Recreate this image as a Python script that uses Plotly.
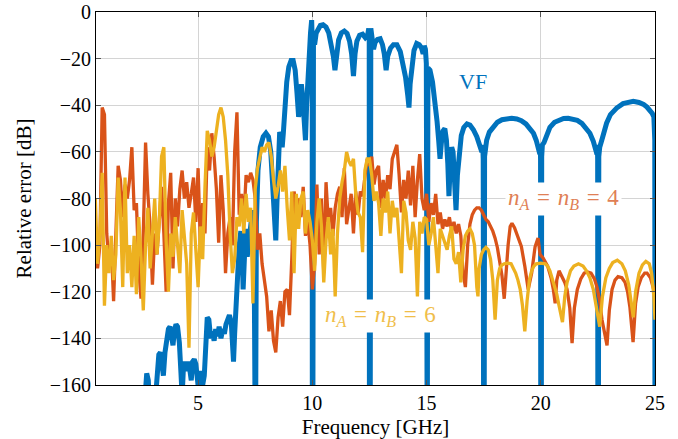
import numpy as np
import plotly.graph_objects as go

# ---------------- data ----------------
vf_freq = [0.5, 2.6, 2.7, 2.75, 2.82, 2.9, 3.1, 3.2, 3.28, 3.35, 3.42, 3.48, 3.55, 3.62, 3.7, 3.77,
           3.83, 3.9, 3.96, 4.03, 4.1, 4.18, 4.25, 4.3, 4.36, 4.42, 4.5, 4.56, 4.63, 4.7, 4.76, 4.83,
           4.9, 4.97, 5.05, 5.12, 5.2, 5.27, 5.33, 5.4, 5.47, 5.55, 5.62, 5.7, 5.77, 5.85, 5.92, 6.0,
           6.08, 6.15, 6.22, 6.3, 6.37, 6.45, 6.5, 6.55, 6.6, 6.65, 6.72, 6.8, 6.87, 6.92, 6.97, 7.02,
           7.08, 7.15, 7.22, 7.3, 7.38, 7.45, 7.49, 7.51, 7.55, 7.62, 7.72, 7.85, 7.97, 8.08, 8.18, 8.27,
           8.35, 8.4, 8.45, 8.5, 8.57, 8.63, 8.68, 8.73, 8.8, 8.88, 8.97, 9.07, 9.16, 9.25, 9.33, 9.4,
           9.46, 9.52, 9.58, 9.63, 9.7, 9.75, 9.8, 9.86, 9.92, 9.97, 9.995, 10.0, 10.02, 10.05, 10.1,
           10.17, 10.25, 10.35, 10.47, 10.6, 10.72, 10.83, 10.92, 10.99, 11.06, 11.15, 11.27, 11.4,
           11.52, 11.63, 11.72, 11.8, 11.87, 11.95, 12.07, 12.2, 12.32, 12.42, 12.47, 12.49, 12.5,
           12.53, 12.56, 12.62, 12.68, 12.75, 12.85, 12.97, 13.07, 13.15, 13.23, 13.3, 13.42, 13.55,
           13.7, 13.85, 13.97, 14.08, 14.18, 14.23, 14.28, 14.35, 14.45, 14.57, 14.68, 14.78, 14.85,
           14.9, 14.95, 14.99, 15.0, 15.03, 15.06, 15.15, 15.26, 15.37, 15.46, 15.53, 15.59, 15.65,
           15.72, 15.8, 15.87, 15.93, 15.98, 16.04, 16.1, 16.16, 16.22, 16.29, 16.35, 16.42, 16.52,
           16.63, 16.77, 16.9, 17.05, 17.2, 17.33, 17.42, 17.46, 17.48, 17.5, 17.52, 17.54, 17.57,
           17.63, 17.75, 17.92, 18.1, 18.3, 18.5, 18.73, 18.95, 19.15, 19.35, 19.53, 19.68, 19.8,
           19.91, 19.96, 19.98, 19.99, 20.0, 20.02, 20.04, 20.07, 20.14, 20.25, 20.4, 20.6, 20.8,
           21.0, 21.2, 21.4, 21.6, 21.8, 22.0, 22.15, 22.3, 22.4, 22.46, 22.48, 22.49, 22.5, 22.52,
           22.54, 22.58, 22.67, 22.78, 22.88, 23.05, 23.32, 23.6, 23.85, 24.05, 24.3, 24.5, 24.65,
           24.78, 24.88, 24.95, 24.99, 25.0]
vf_err = [-200, -200, -162, -155, -158, -175, -170, -152, -147, -146, -152, -156, -146, -139, -136, -135,
          -139, -143, -137, -134, -135, -142, -155, -165, -152, -150, -154, -150, -153, -158, -150, -149,
          -151, -157, -165, -154, -160, -156, -140, -131, -132, -140, -137, -141, -136, -139, -135, -140,
          -136, -138, -134, -131, -130, -133, -140, -150, -138, -128, -112, -100, -94, -100, -119, -98,
          -93, -105, -97, -90, -85, -100, -200, -200, -90, -68, -58, -53.5, -52, -53.5, -60, -74,
          -92, -98, -82, -62, -51.5, -53, -58, -52, -40, -30, -23.5, -20.8, -20.8, -25, -35, -45,
          -40, -31, -37, -47, -55, -40, -27, -18, -9, -3.5, -12, -200, -200, -10, -14,
          -9, -7, -5.8, -5.5, -6.5, -9, -13.5, -19, -25, -18, -12, -9, -8.2,
          -9.2, -12.5, -18, -27.5, -18, -12.5, -10, -9.5, -11, -10, -7, -12, -200,
          -200, -7, -12, -16, -13, -11.8, -11.5, -14, -18, -25, -19, -15.5, -14,
          -14, -17, -22, -28, -36, -41, -31, -23, -16.5, -13.5, -14, -15.5, -18,
          -14.5, -16, -22, -200, -200, -24, -25, -30, -38, -47, -55, -63, -56,
          -51, -50, -55, -65, -79, -65, -58, -60, -70, -85, -70, -60, -53,
          -49.5, -48, -48.5, -50.5, -53.5, -57, -60, -57, -63, -200, -200, -62, -57,
          -55, -51.5, -49, -47.3, -46.2, -45.7, -45.6, -45.9, -46.6, -48, -49.8, -52, -55,
          -58.5, -61, -57, -63, -200, -200, -62, -57, -56, -52.5, -49.5, -47.3, -46.2,
          -45.7, -45.6, -45.8, -46.5, -47.8, -49.8, -52, -55.5, -58.5, -61, -57, -63, -200, -200,
          -62, -58, -55, -51, -47.7, -44, -41.2, -39.3, -38.5, -38.3, -38.8, -39.6, -40.8,
          -42, -43.5, -45, -55, -200]

# n_A = n_B = 4 : dense part on a 0.1 GHz grid from 0.5 to 17.0 GHz
n4_err_dense = [
    -95, -110, -100, -41, -44, -95, -108, -100, -124, -90,        # 0.5 - 1.4
    -66, -72, -88, -74, -80, -72, -58, -85, -82, -110,            # 1.5 - 2.4
    -123, -95, -56, -78, -92, -117, -95, -104, -88, -75,          # 2.5 - 3.4
    -95, -120, -82, -69, -110, -80, -92, -76, -68, -80,           # 3.5 - 4.4
    -73, -84, -78, -71, -90, -67, -100, -82, -95, -58,            # 4.5 - 5.4
    -68, -52, -62, -76, -99, -70, -85, -112, -95, -88,            # 5.5 - 6.4
    -100, -60, -43, -87, -78, -90, -70, -73, -69, -72,            # 6.5 - 7.4
    -80, -102, -95, -108, -115, -122, -137, -128, -141, -146,     # 7.5 - 8.4
    -131, -124, -135, -120, -119, -130, -106, -77, -83, -80,      # 8.5 - 9.4
    -88, -75, -96, -90, -100, -119, -108, -74, -104, -80,         # 9.5 - 10.4
    -112, -73, -90, -84, -96, -84, -78, -75, -88, -67,            # 10.5 - 11.4
    -91, -84, -78, -95, -77, -87, -77, -79, -70, -63,             # 11.5 - 12.4
    -66, -62, -74, -68, -66, -84, -72, -80, -70, -76,             # 12.5 - 13.4
    -63, -60, -57, -70, -86, -72, -80, -68, -83, -66,             # 13.5 - 14.4
    -88, -72, -61, -80, -85, -78, -90, -82, -87, -78,             # 14.5 - 15.4
    -91, -86, -93, -89, -92, -88, -94, -90, -95, -91,             # 15.5 - 16.4
    -96, -112, -118, -100, -91, -87]                              # 16.5 - 17.0
n4_freq_tail = [17.1, 17.2, 17.3, 17.4, 17.5, 17.6, 17.7, 17.8, 17.9, 18.0, 18.1, 18.2, 18.3, 18.4,
                18.47, 18.57, 18.66, 18.74, 18.85, 19.0, 19.15, 19.3, 19.45, 19.6, 19.75, 19.88,
                19.97, 20.1, 20.3, 20.45, 20.55, 20.63, 20.7, 20.8, 20.9, 21.05, 21.15, 21.27,
                21.37, 21.47, 21.6, 21.75, 21.9, 22.05, 22.2, 22.35, 22.46, 22.58, 22.68, 22.8,
                22.9, 23.0, 23.12, 23.25, 23.38, 23.55, 23.69, 23.8, 23.9, 24.04, 24.15, 24.26,
                24.4, 24.55, 24.65, 24.8, 24.9, 25.0]
n4_err_tail = [-85, -84, -84, -85, -87, -89, -90, -92, -94, -97, -101, -107, -113, -123,
               -112, -100, -92, -90.6, -92.5, -96.5, -100.6, -109, -119, -112, -100.7, -97,
               -104, -105.5, -109, -114, -119, -125, -115, -111, -113, -116, -119, -127,
               -142, -127, -119, -114.5, -112, -111.5, -112, -114.5, -118, -124, -132, -138,
               -143, -128, -119, -115, -113.5, -114, -116, -120, -126.5, -141.6, -125, -118,
               -114, -112, -112, -114, -118, -121]

# n_A = n_B = 6 : dense part on a 0.1 GHz grid from 0.5 to 17.0 GHz
n6_err_dense = [
    -80, -108, -95, -69, -126, -100, -112, -96, -115, -104,       # 0.5 - 1.4
    -71, -85, -118, -71, -112, -100, -118, -96, -121, -88,        # 1.5 - 2.4
    -105, -128, -100, -84, -110, -95, -80, -104, -90, -62,        # 2.5 - 3.4
    -58, -98, -120, -95, -105, -88, -100, -112, -85, -96,         # 3.5 - 4.4
    -108, -144, -95, -86, -104, -118, -92, -106, -75, -51,        # 4.5 - 5.4
    -55, -62, -58, -50, -44, -41, -45, -55, -70, -95,             # 5.5 - 6.4
    -112, -106, -88, -92, -80, -95, -78, -90, -84, -125,          # 6.5 - 7.4
    -76, -67, -62, -58, -60, -57, -56, -62, -72, -80,             # 7.5 - 8.4
    -75, -68, -77, -66, -84, -98, -77, -112, -78, -93,            # 8.5 - 9.4
    -80, -77, -95, -85, -90, -98, -111, -90, -80, -92,            # 9.5 - 10.4
    -116, -98, -88, -104, -93, -122, -95, -80, -73, -68,          # 10.5 - 11.4
    -60, -64, -66, -63, -78, -86, -88, -103, -68, -63,            # 11.5 - 12.4
    -63, -70, -81, -77, -82, -96, -80, -86, -77, -95,             # 12.5 - 13.4
    -81, -88, -84, -100, -112, -81, -86, -98, -102, -90,          # 13.5 - 14.4
    -97, -122, -90, -95, -88, -89, -100, -95, -88, -100,          # 14.5 - 15.4
    -112, -93, -96, -100, -102, -96, -92, -106, -108, -103,       # 15.5 - 16.4
    -116, -102, -96, -94, -93, -95]                               # 16.5 - 17.0
n6_freq_tail = [17.1, 17.2, 17.25, 17.3, 17.4, 17.5, 17.6, 17.7, 17.8, 17.9, 18.0, 18.1, 18.2,
                18.3, 18.4, 18.55, 18.7, 18.8, 18.9, 19.0, 19.1, 19.2, 19.3, 19.4, 19.5, 19.6,
                19.7, 19.8, 20.0, 20.2, 20.3, 20.4, 20.5, 20.6, 20.7, 20.8, 20.95, 21.05, 21.15,
                21.3, 21.45, 21.65, 21.85, 22.0, 22.15, 22.3, 22.45, 22.58, 22.7, 22.85, 23.0,
                23.15, 23.35, 23.55, 23.7, 23.85, 23.95, 24.05, 24.15, 24.3, 24.45, 24.6, 24.75,
                24.85, 24.95, 25.0]
n6_err_tail = [-100, -118, -122, -110, -104, -102, -101, -102, -106, -115, -132, -115, -110,
               -108.5, -108, -107.7, -108, -110, -112, -115, -119, -126, -137, -124, -115, -111,
               -109, -108, -107.7, -108, -109, -111, -114, -117, -121, -126, -133, -122, -116,
               -111, -109, -108, -109, -111, -114, -119, -127, -135, -122, -114, -110,
               -107.5, -106.5, -108, -111, -117, -124, -131, -120, -112, -108.5, -107, -108,
               -112, -122, -132]

x_ticks = [5, 10, 15, 20, 25]
y_ticks = [-160, -140, -120, -100, -80, -60, -40, -20, 0]

# ---------------- assemble ----------------
dense_freq = np.round(np.arange(0.5, 17.0001, 0.1), 2)
assert len(n4_err_dense) == len(dense_freq), len(n4_err_dense)
assert len(n6_err_dense) == len(dense_freq), len(n6_err_dense)
assert len(vf_freq) == len(vf_err), (len(vf_freq), len(vf_err))
assert len(n4_freq_tail) == len(n4_err_tail)
assert len(n6_freq_tail) == len(n6_err_tail)

n4_freq = list(dense_freq) + n4_freq_tail
n4_err = n4_err_dense + n4_err_tail
n6_freq = list(dense_freq) + n6_freq_tail
n6_err = n6_err_dense + n6_err_tail

BLUE = "#0072BD"
ORANGE = "#D95319"
YELLOW = "#EDB120"
FONT = "Liberation Serif"
SP = "\u2004"

fig = go.Figure()
fig.add_trace(go.Scatter(x=vf_freq, y=vf_err, mode="lines",
                         line=dict(color=BLUE, width=5), showlegend=False))
fig.add_trace(go.Scatter(x=n4_freq, y=n4_err, mode="lines",
                         line=dict(color=ORANGE, width=3.3), showlegend=False))
fig.add_trace(go.Scatter(x=n6_freq, y=n6_err, mode="lines",
                         line=dict(color=YELLOW, width=3.3), showlegend=False))

fig.add_annotation(x=17.05, y=-30, text="VF", showarrow=False,
                   font=dict(family=FONT, size=22, color=BLUE))
fig.add_annotation(x=21.0, y=-80,
                   text=f"<i>n<sub>A</sub></i>{SP}={SP}<i>n<sub>B</sub></i>{SP}={SP}4",
                   showarrow=False, bgcolor="white", borderpad=2,
                   font=dict(family=FONT, size=23, color="#E07F55"))
fig.add_annotation(x=13.0, y=-130.5,
                   text=f"<i>n<sub>A</sub></i>{SP}={SP}<i>n<sub>B</sub></i>{SP}={SP}6",
                   showarrow=False, bgcolor="white", borderpad=2,
                   font=dict(family=FONT, size=23, color="#F0BE4A"))

axis_common = dict(showline=True, linecolor="black", linewidth=1, mirror="ticks",
                   ticks="inside", ticklen=5, tickcolor="#555555", tickwidth=1,
                   showgrid=True, gridcolor="#d4d4d4", gridwidth=1, zeroline=False,
                   automargin=False,
                   tickfont=dict(family=FONT, size=20, color="black"))

fig.update_xaxes(range=[0.53, 25], tickvals=x_ticks,
                 title=dict(text="Frequency [GHz]", font=dict(family=FONT, size=21, color="black"),
                            standoff=8),
                 **axis_common)
fig.update_yaxes(range=[-160, 0], tickvals=y_ticks,
                 title=dict(text="Relative error [dB]", font=dict(family=FONT, size=21, color="black"),
                            standoff=12),
                 **axis_common)

fig.update_layout(width=678, height=439, margin=dict(l=96, r=23, t=12, b=54),
                  plot_bgcolor="white", paper_bgcolor="white")

# the page's default 8px body margin would shift the figure; remove it
fig.write_html("out.html", config={"displayModeBar": False},
               post_script="document.body.style.margin='0px';document.body.style.padding='0px';")
